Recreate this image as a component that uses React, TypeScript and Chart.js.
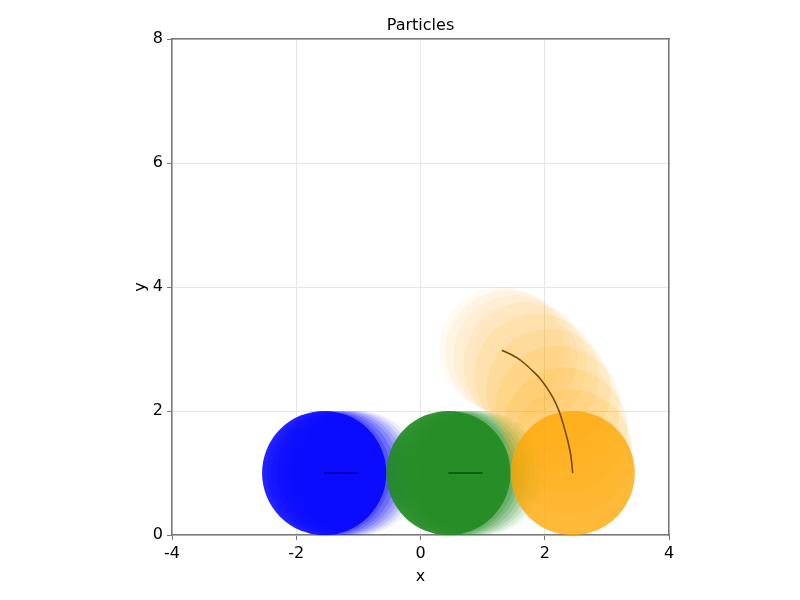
import React, { useEffect, useRef } from "react";
import { Chart, registerables, ChartConfiguration } from "chart.js";

Chart.register(...registerables);

// axis ticks
const xTickValues = [-4, -2, 0, 2, 4];
const yTickValues = [0, 2, 4, 6, 8];

// particle radius in data units
const particleRadius = 1;

// blue particle: ghosts (oldest first), current position, trail
const blueGhostX = [-1.0, -1.08, -1.16, -1.24, -1.32, -1.4, -1.48];
const blueGhostY = [1, 1, 1, 1, 1, 1, 1];
const bluePos = { x: -1.55, y: 1 };
const blueTrailX = [-1.0, -1.55];
const blueTrailY = [1, 1];

// green particle
const greenGhostX = [1.0, 0.92, 0.84, 0.76, 0.68, 0.6, 0.53];
const greenGhostY = [1, 1, 1, 1, 1, 1, 1];
const greenPos = { x: 0.45, y: 1 };
const greenTrailX = [1.0, 0.45];
const greenTrailY = [1, 1];

// orange particle
const orangeGhostX = [1.3, 1.4, 1.53, 1.69, 1.87, 2.06, 2.21, 2.33, 2.41];
const orangeGhostY = [3.0, 2.95, 2.87, 2.75, 2.57, 2.33, 2.05, 1.7, 1.35];
const orangePos = { x: 2.45, y: 1 };
const orangeTrailX = [1.31, 1.42, 1.55, 1.67, 1.79, 1.92, 2.03, 2.14, 2.23, 2.3, 2.365, 2.42, 2.45];
const orangeTrailY = [2.98, 2.93, 2.86, 2.77, 2.66, 2.53, 2.38, 2.2, 2.0, 1.78, 1.54, 1.28, 1.0];

const toPoints = (xs: number[], ys: number[]) => xs.map((x, i) => ({ x, y: ys[i] }));

const radiusPx = (ctx: any) => {
  const s = ctx.chart.scales.x;
  return Math.abs(s.getPixelForValue(particleRadius) - s.getPixelForValue(0));
};

function particleSets(
  rgb: string,
  ghostAlpha: [number, number],
  mainAlpha: number,
  trailColor: string,
  ghostX: number[],
  ghostY: number[],
  pos: { x: number; y: number },
  trailX: number[],
  trailY: number[]
) {
  const n = ghostX.length;
  const [a0, a1] = ghostAlpha;
  return {
    circles: [
      {
        data: toPoints(ghostX, ghostY),
        pointRadius: radiusPx,
        pointBorderWidth: 0,
        pointBackgroundColor: (ctx: any) =>
          `rgba(${rgb},${(a0 + ((a1 - a0) * ctx.dataIndex) / (n - 1)).toFixed(3)})`,
      },
      {
        data: [pos],
        pointRadius: radiusPx,
        pointBorderWidth: 0,
        pointBackgroundColor: `rgba(${rgb},${mainAlpha})`,
      },
    ],
    trail: {
      data: toPoints(trailX, trailY),
      showLine: true,
      pointRadius: 0,
      borderColor: trailColor,
      borderWidth: 1.5,
      tension: 0.3,
    },
  };
}

Chart.defaults.font.family = "DejaVu Sans";

export default function App() {
  const canvasRef = useRef<HTMLCanvasElement | null>(null);

  useEffect(() => {
    if (!canvasRef.current) return;

    const blue = particleSets("0,0,255", [0.07, 0.22], 0.87, "#0000a0", blueGhostX, blueGhostY, bluePos, blueTrailX, blueTrailY);
    const green = particleSets("34,139,34", [0.07, 0.22], 0.92, "#005500", greenGhostX, greenGhostY, greenPos, greenTrailX, greenTrailY);
    const orange = particleSets("255,165,0", [0.05, 0.15], 0.78, "#704400", orangeGhostX, orangeGhostY, orangePos, orangeTrailX, orangeTrailY);

    // listed in paint order, bottom first
    const painted: any[] = [
      ...blue.circles,
      ...green.circles,
      ...orange.circles,
      blue.trail,
      green.trail,
      orange.trail,
    ];
    const datasets = painted.map((d, i) => ({
      ...d,
      xAxisID: "x",
      yAxisID: "y",
      order: painted.length - i,
    }));

    const axisGrey = "#777777";

    const config: ChartConfiguration<"scatter"> = {
      type: "scatter",
      data: { datasets },
      options: {
        animation: false,
        responsive: true,
        maintainAspectRatio: false,
        events: [],
        layout: { padding: 0 },
        plugins: {
          legend: { display: false },
          tooltip: { enabled: false },
        },
        scales: {
          x: {
            type: "linear",
            position: "bottom",
            min: -4,
            max: 4,
            afterBuildTicks: (s: any) => {
              s.ticks = xTickValues.map((value) => ({ value }));
            },
            afterFit: (s: any) => {
              s.height = 65;
            },
            ticks: { color: "#000", font: { size: 16 }, padding: 4 },
            grid: { color: "#e6e6e6", tickColor: axisGrey, tickLength: 5 },
            border: { color: axisGrey, width: 1.5 },
            title: {
              display: true,
              text: "x",
              color: "#000",
              font: { size: 16 },
              padding: { top: 0, bottom: 14 },
            },
          },
          y: {
            type: "linear",
            position: "left",
            min: 0,
            max: 8,
            afterBuildTicks: (s: any) => {
              s.ticks = yTickValues.map((value) => ({ value }));
            },
            afterFit: (s: any) => {
              s.width = 172;
            },
            ticks: { color: "#000", font: { size: 16 }, padding: 4 },
            grid: { color: "#e6e6e6", tickColor: axisGrey, tickLength: 5 },
            border: { color: axisGrey, width: 1.5 },
            title: {
              display: true,
              text: "y",
              color: "#000",
              font: { size: 16 },
              padding: { top: 131, bottom: 0 },
            },
          },
          x2: {
            type: "linear",
            position: "top",
            min: -4,
            max: 4,
            afterFit: (s: any) => {
              s.height = 39;
            },
            ticks: { display: false },
            grid: { display: false, drawTicks: false },
            border: { color: axisGrey, width: 1.5 },
            title: {
              display: true,
              text: "Particles",
              color: "#000",
              font: { size: 16 },
              padding: { top: 16, bottom: 0 },
            },
          },
          y2: {
            type: "linear",
            position: "right",
            min: 0,
            max: 8,
            afterFit: (s: any) => {
              s.width = 131;
            },
            ticks: { display: false },
            grid: { display: false, drawTicks: false },
            border: { color: axisGrey, width: 1.5 },
          },
        },
      },
    };

    const chart = new Chart(canvasRef.current, config);
    return () => {
      chart.destroy();
    };
  }, []);

  return (
    <div style={{ position: "absolute", left: 0, top: 0, width: 800, height: 600, background: "#fff" }}>
      <canvas ref={canvasRef} />
    </div>
  );
}
